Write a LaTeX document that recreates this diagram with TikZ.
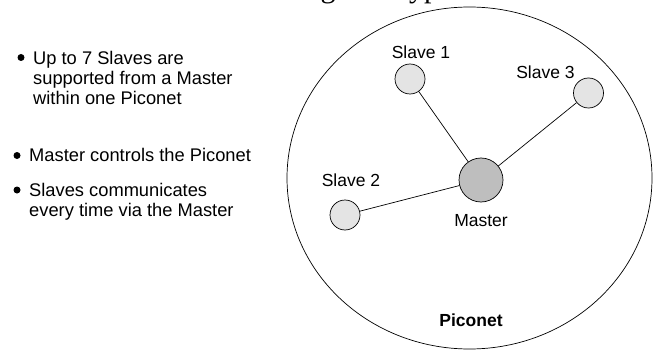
\documentclass[tikz,border=0pt]{standalone}
\usepackage{fontspec}
\setmainfont{Liberation Sans}
\newfontfamily\titlefont{Liberation Serif}
\begin{document}
\begin{tikzpicture}[x=1pt,y=-1pt,
  slave/.style={circle,draw,line width=0.7pt,fill=slavegray,minimum size=30pt,inner sep=0pt},
  master/.style={circle,draw,line width=0.7pt,fill=mastergray,minimum size=44pt,inner sep=0pt},
  lbl/.style={font=\fontsize{17.5}{20}\selectfont,inner sep=0pt},
  bul/.style={circle,fill=black,minimum size=7pt,inner sep=0pt},
  btxt/.style={font=\fontsize{18.3}{20}\selectfont,inner sep=0pt,anchor=north west,align=left},
  link/.style={line width=0.7pt}]
\definecolor{slavegray}{HTML}{E4E4E4}
\definecolor{mastergray}{HTML}{BEBEBE}
\useasboundingbox (0,0) rectangle (653,350);
% cut-off title fragments
\node[font=\titlefont\fontsize{30}{30}\selectfont,inner sep=0pt,anchor=base] (tg) at (328,-2) {g};
\node[font=\titlefont\fontsize{30}{30}\selectfont,inner sep=0pt,anchor=base] (tt) at (420,-2) {typ};
% piconet
\draw[line width=0.7pt] (469.5,178) ellipse [x radius=182.5, y radius=171];
\node[slave] (s1) at (410,79) {};
\node[slave] (s3) at (588.5,93) {};
\node[slave] (s2) at (345,215) {};
\node[master] (m) at (481,180) {};
\draw[link] (s1) -- (m);
\draw[link] (s3) -- (m);
\draw[link] (s2) -- (m);
\node[lbl] (l1) at (421,52) {Slave 1};
\node[lbl] (l3) at (545.5,72) {Slave 3};
\node[lbl] (l2) at (351,180) {Slave 2};
\node[lbl] (lm) at (481,221) {Master};
\node[lbl,font=\bfseries\fontsize{17.5}{20}\selectfont] (lp) at (471,320) {Piconet};
% bullets
\node[bul] (b1) at (21,57.5) {};
\node[btxt] (t1) at (33,50.9) {Up to 7 Slaves are\\supported from a Master\\within one Piconet};
\node[bul] (b2) at (17,155.5) {};
\node[btxt] (t2) at (29,147.9) {Master controls the Piconet};
\node[bul] (b3) at (17,190) {};
\node[btxt] (t3) at (29,182.9) {Slaves communicates\\every time via the Master};
\end{tikzpicture}
\end{document}
